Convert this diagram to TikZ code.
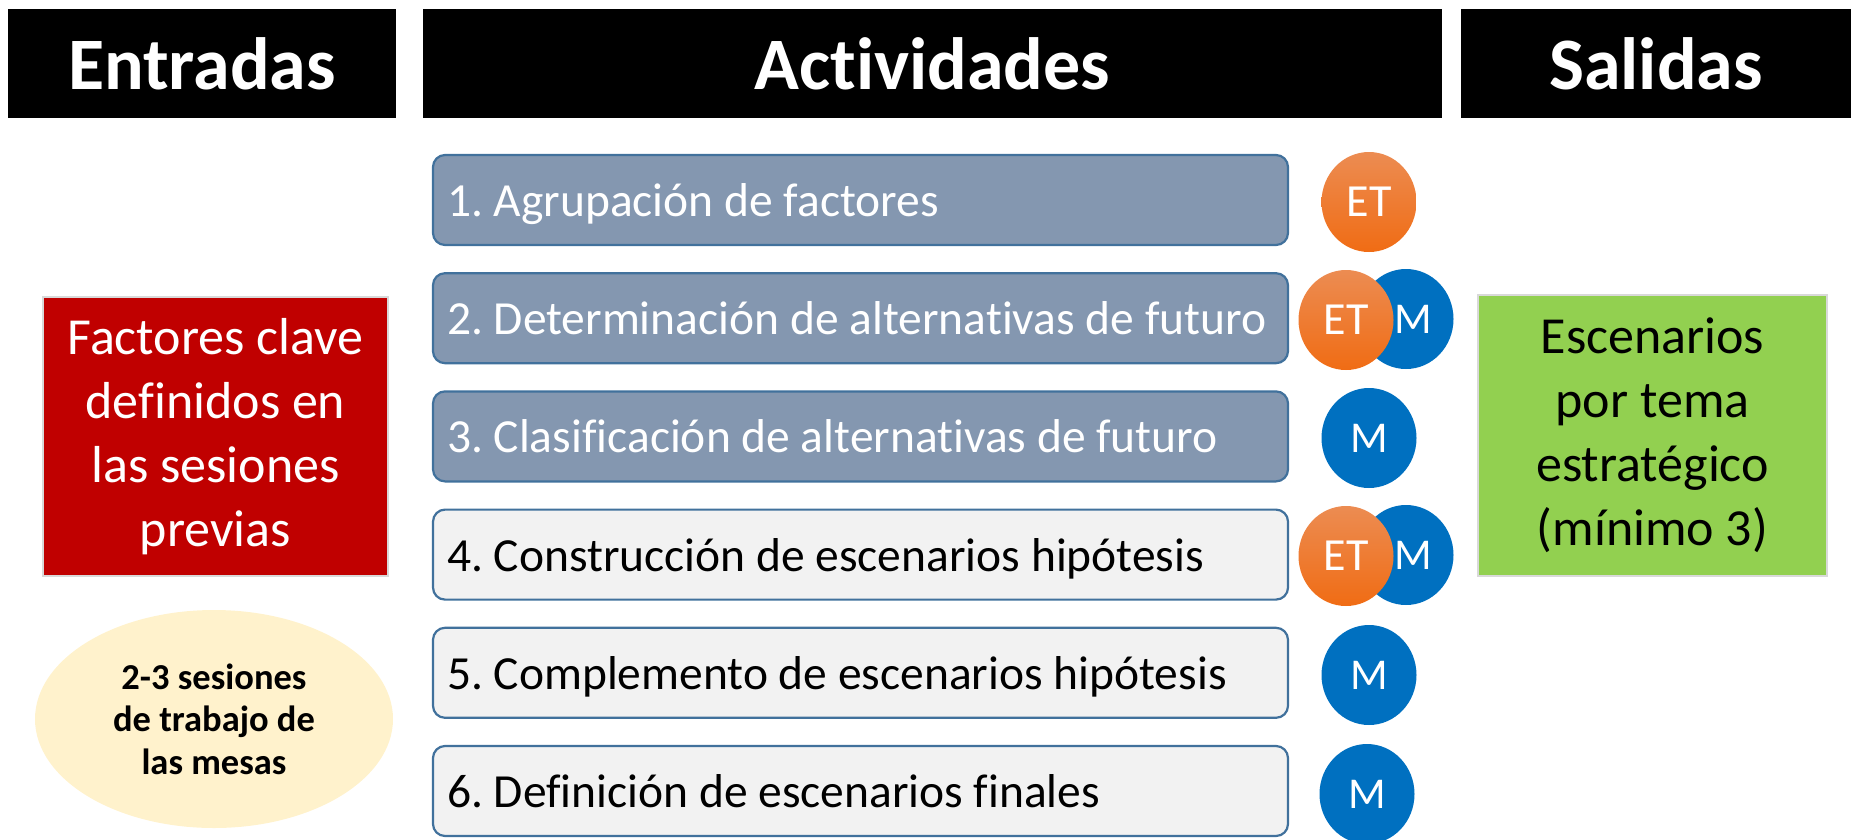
\documentclass[tikz,border=0pt]{standalone}
\usepackage{fontspec}
\setmainfont{Carlito}[Ligatures=NoCommon]
\usetikzlibrary{shapes.geometric}
\definecolor{actblue}{HTML}{8497B0}
\definecolor{actgray}{HTML}{F2F2F2}
\definecolor{actline}{HTML}{41719C}
\definecolor{inred}{HTML}{C00000}
\definecolor{outgreen}{HTML}{92D050}
\definecolor{boxline}{HTML}{D9D9D9}
\definecolor{sessyellow}{HTML}{FFF2CC}
\definecolor{mblue}{HTML}{0070C0}
\definecolor{ettop}{RGB}{236,140,82}
\definecolor{etbot}{RGB}{240,108,20}
\tikzset{
  hdrbox/.style={fill=black, text=white, inner sep=0pt, outer sep=0pt, minimum height=109pt,
    font=\bfseries\fontsize{74}{88}\selectfont},
  actbase/.style={rounded corners=12pt, draw=actline, line width=2.2pt, minimum width=855pt,
    minimum height=90pt, inner xsep=14pt, inner ysep=0pt, text width=827pt, align=flush left,
    text height=38pt, text depth=5pt,
    font=\fontsize{47.5}{57}\selectfont\frenchspacing},
  actdark/.style={actbase, fill=actblue, text=white},
  actlight/.style={actbase, fill=actgray, text=black},
  etcirc/.style={ellipse, top color=ettop, bottom color=etbot, text=white, inner sep=0pt,
    minimum width=95pt, minimum height=100pt, font=\fontsize{46}{52}\selectfont},
  mcirc/.style={ellipse, fill=mblue, text=white, inner sep=0pt,
    minimum width=95pt, minimum height=100pt, font=\fontsize{44}{50}\selectfont},
  bigbox/.style={draw=boxline, line width=1.5pt, inner sep=0pt, align=center,
    font=\fontsize{52}{64}\selectfont}
}
\begin{document}
\begin{tikzpicture}[x=1pt,y=-1pt]
\useasboundingbox (0,0) rectangle (1853,839);
% headers
\node[hdrbox, minimum width=388pt] (hin) at (202,63.5) {Entradas};
\node[hdrbox, minimum width=1019pt] (hact) at (932.5,63.5) {Actividades};
\node[hdrbox, minimum width=390pt] (hout) at (1656,63.5) {Salidas};
% inputs
\node[bigbox, fill=inred, text=white, minimum width=345pt, minimum height=279pt] (inp) at (215.5,436.5)
  {Factores clave\\definidos en\\las sesiones\\previas};
\node[ellipse, fill=sessyellow, minimum width=358pt, minimum height=218pt, inner sep=0pt,
  align=center, font=\bfseries\fontsize{36.5}{42.5}\selectfont] (sess) at (214,719)
  {\rule{0pt}{8pt}2-3 sesiones\\de trabajo de\\las mesas};
% output
\node[bigbox, fill=outgreen, text=black, minimum width=349pt, minimum height=281pt] (outp) at (1652.5,435.5)
  {Escenarios\\por tema\\estratégico\\(mínimo 3)};
% activities
\node[actdark] (a1) at (860.5,200) {1. Agrupación de factores};
\node[actdark] (a2) at (860.5,318.2) {2. Determinación de alternativas de futuro};
\node[actdark] (a3) at (860.5,436.4) {3. Clasificación de alternativas de futuro};
\node[actlight] (a4) at (860.5,554.6) {4. Construcción de escenarios hipótesis};
\node[actlight] (a5) at (860.5,672.8) {5. Complemento de escenarios hipótesis};
\node[actlight] (a6) at (860.5,791) {6. Definición de escenarios finales};
% participants
\node[etcirc] (c1) at (1369,202) {ET};
\node[mcirc] (c2m) at (1406,319) {\hspace*{14pt}M};
\node[etcirc] (c2e) at (1346,320) {ET};
\node[mcirc] (c3) at (1369,438) {M};
\node[mcirc] (c4m) at (1406,555) {\hspace*{14pt}M};
\node[etcirc] (c4e) at (1346,556) {ET};
\node[mcirc] (c5) at (1369,675) {M};
\node[mcirc] (c6) at (1367,794) {M};
\end{tikzpicture}
\end{document}
